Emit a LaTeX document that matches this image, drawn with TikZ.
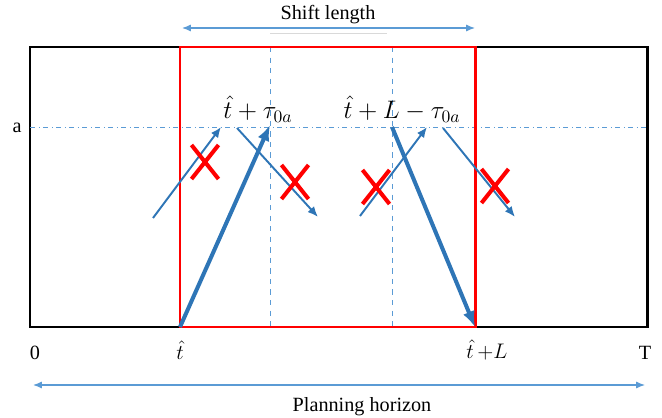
\documentclass[tikz,border=0pt]{standalone}
\usepackage{fontspec}
\setmainfont{Liberation Serif}
\usetikzlibrary{positioning,arrows.meta,shapes.misc}
\definecolor{cblue}{HTML}{2E75B6}
\definecolor{cred}{HTML}{FF0000}
\definecolor{clight}{HTML}{5B9BD5}

\begin{document}
\begin{tikzpicture}[x=0.02cm,y=-0.02cm,>=Latex,
  frame/.style={draw,line width=1.7pt},
  win/.style={draw=cred,line width=1.7pt},
  guide/.style={draw=clight,dashed,line width=0.5pt},
  level/.style={draw=clight,dash dot,line width=0.5pt},
  bigarc/.style={cblue,line width=2.3pt,-{Latex[length=9pt,width=7pt]}},
  arc/.style={cblue,line width=1.1pt,-{Latex[length=6pt,width=5pt]}},
  span/.style={clight,line width=0.7pt,{Latex[length=5pt,width=4pt]}-{Latex[length=5pt,width=4pt]}},
  nope/.style={cross out,draw=cred,line width=2.3pt,inner sep=0pt,
               minimum width=0.46cm,minimum height=0.6cm},
  txt/.style={inner sep=0pt,font=\fontsize{11.5}{13}\selectfont},
  mth/.style={inner sep=0pt,font=\fontsize{14.5}{16}\selectfont}]
\useasboundingbox (0,0) rectangle (662,418);
% horizon and window
\coordinate (h0) at (30,47); \coordinate (h1) at (647,327);
\coordinate (w0) at (180,47); \coordinate (w1) at (475,327);
\coordinate (t0) at (180,327); \coordinate (tL) at (475,327);
\coordinate (p1) at (270,125); \coordinate (p2) at (392,127);
\draw[frame] (h0) rectangle (h1);
\draw[guide] (270,47) -- (270,327);
\draw[guide] (392,47) -- (392,327);
\draw[level] (30,127) -- (647,127);
\draw[win] (w0) rectangle (w1);
% labels
\node[txt] (a) at (17,128) {a};
\node[txt] (zero) at (35,353) {0};
\node[txt] (T) at (645,353) {T};
\node[mth,font=\fontsize{13}{15}\selectfont] (th) at (180,350) {$\hat{t}$};
\node[mth,font=\fontsize{13}{15}\selectfont] (thL) at (487,350) {$\hat{t}\,{+}L$};
\node[mth] (lab1) at (258,109) {$\hat{t}+\tau_{0a}$};
\node[mth] (lab2) at (402,109) {$\hat{t}+L-\tau_{0a}$};
% shift length
\coordinate (s0) at (182,28); \coordinate (s1) at (475,28);
\node[txt] (shift) at (328,15) {Shift length};
\draw[span] (s0) -- (s1);
\draw[gray!30,line width=0.5pt] (270,33) -- (387,33);
% planning horizon
\coordinate (ph0) at (33,385); \coordinate (ph1) at (645,385);
\draw[span] (ph0) -- (ph1);
\node[txt] (plan) at (362,407) {Planning horizon};
% arcs
\draw[bigarc] (t0) -- (p1);
\draw[bigarc] (p2) -- (tL);
\coordinate (a0) at (153,218); \coordinate (a1) at (221,127);
\coordinate (b0) at (237,128); \coordinate (b1) at (318,217);
\coordinate (c0) at (360,216); \coordinate (c1) at (427,127);
\coordinate (d0) at (443,128); \coordinate (d1) at (515,217);
\draw[arc] (a0) -- (a1);
\draw[arc] (b0) -- (b1);
\draw[arc] (c0) -- (c1);
\draw[arc] (d0) -- (d1);
% infeasible
\node[nope] (x1) at (205,162) {};
\node[nope] (x2) at (295,182) {};
\node[nope] (x3) at (376,187) {};
\node[nope] (x4) at (495,186) {};
\end{tikzpicture}
\end{document}
